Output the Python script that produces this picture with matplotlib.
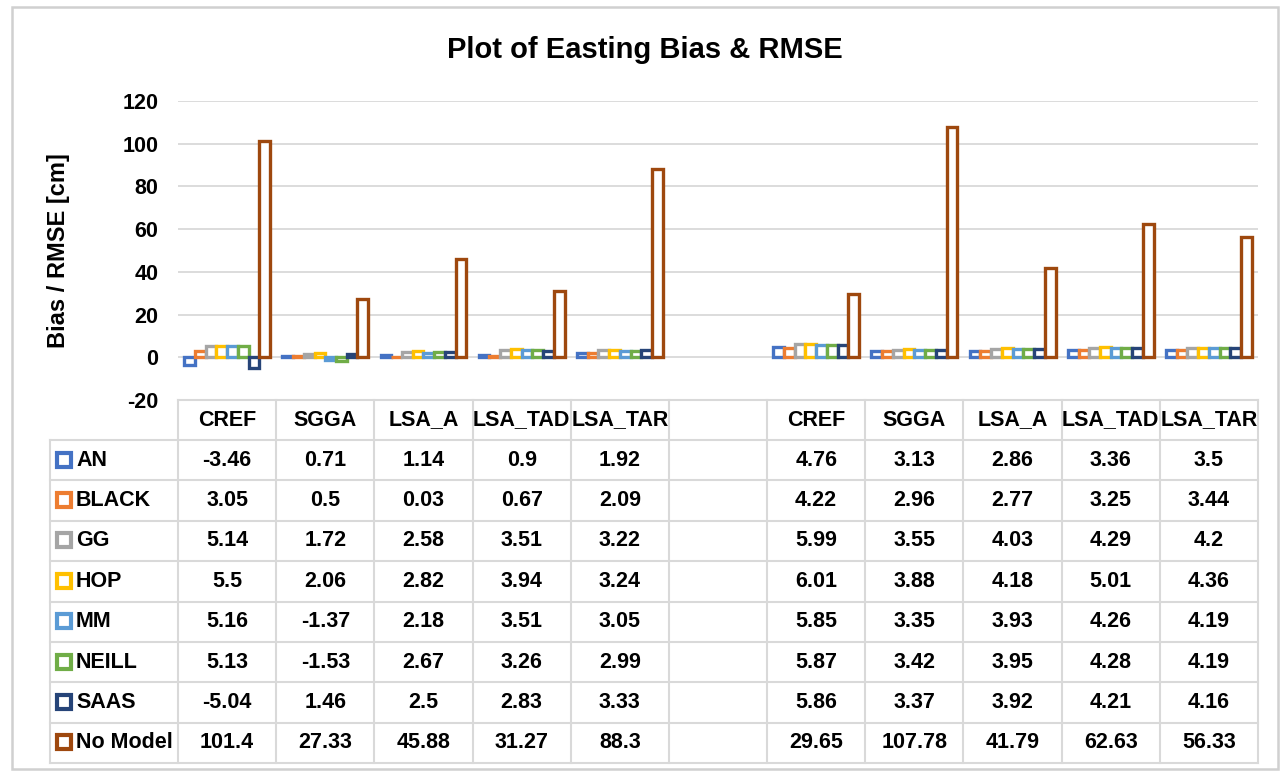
import numpy as np
import matplotlib.pyplot as plt
from matplotlib.patches import Rectangle

plt.rcParams['font.family'] = ['Liberation Sans', 'DejaVu Sans']
plt.rcParams['font.weight'] = 'bold'
plt.rcParams['axes.unicode_minus'] = False

# two groups of solutions, separated by an empty column
categories = ['CREF', 'SGGA', 'LSA_A', 'LSA_TAD', 'LSA_TAR', '',
              'CREF', 'SGGA', 'LSA_A', 'LSA_TAD', 'LSA_TAR']
models = ['AN', 'BLACK', 'GG', 'HOP', 'MM', 'NEILL', 'SAAS', 'No Model']
colors = ['#4472C4', '#ED7D31', '#A5A5A5', '#FFC000',
          '#5B9BD5', '#70AD47', '#264478', '#9E480E']

nan = np.nan
an = [-3.46, 0.71, 1.14, 0.9, 1.92, nan, 4.76, 3.13, 2.86, 3.36, 3.5]
black = [3.05, 0.5, 0.03, 0.67, 2.09, nan, 4.22, 2.96, 2.77, 3.25, 3.44]
gg = [5.14, 1.72, 2.58, 3.51, 3.22, nan, 5.99, 3.55, 4.03, 4.29, 4.2]
hop = [5.5, 2.06, 2.82, 3.94, 3.24, nan, 6.01, 3.88, 4.18, 5.01, 4.36]
mm = [5.16, -1.37, 2.18, 3.51, 3.05, nan, 5.85, 3.35, 3.93, 4.26, 4.19]
neill = [5.13, -1.53, 2.67, 3.26, 2.99, nan, 5.87, 3.42, 3.95, 4.28, 4.19]
saas = [-5.04, 1.46, 2.5, 2.83, 3.33, nan, 5.86, 3.37, 3.92, 4.21, 4.16]
no_model = [101.4, 27.33, 45.88, 31.27, 88.3, nan, 29.65, 107.78, 41.79, 62.63, 56.33]
series = [an, black, gg, hop, mm, neill, saas, no_model]

W, H = 1285, 774
fig = plt.figure(figsize=(W / 100, H / 100), dpi=100)

# pixel layout of the plot area and the data table under it
left, right = 178, 1258
top_px, bot_px = 101, 400
ax = fig.add_axes([left / W, 1 - bot_px / H, (right - left) / W, (bot_px - top_px) / H])

n_cat = len(categories)
n_ser = len(series)
x = np.arange(n_cat)
group_w = 0.875
bw = group_w / n_ser
for k, (vals, c) in enumerate(zip(series, colors)):
    pos = x - group_w / 2 + bw * (k + 0.5)
    ax.bar(pos, vals, width=bw, facecolor='white', edgecolor=c, linewidth=2.4, zorder=3)

ax.set_xlim(-0.5, n_cat - 0.5)
ax.set_ylim(-20, 120)
ax.set_yticks(np.arange(-20, 121, 20))
ax.set_xticks([])
ax.grid(axis='y', color='#D9D9D9', linewidth=1.3, zorder=0)
for s in ax.spines.values():
    s.set_visible(False)
ax.tick_params(axis='y', length=0, labelsize=15.5, pad=14)
for t in ax.get_yticklabels():
    t.set_fontweight('bold')
ax.set_ylabel('Bias / RMSE [cm]', fontsize=17, fontweight='bold', labelpad=38)

fig.text(645 / W, 1 - 50 / H, 'Plot of Easting Bias & RMSE', ha='center', va='center',
         fontsize=21, fontweight='bold')

# data table drawn in pixel coordinates on an overlay
tab = fig.add_axes([0, 0, 1, 1])
tab.set_xlim(0, W)
tab.set_ylim(H, 0)
tab.axis('off')

col_w = (right - left) / n_cat
lab_left = 50
head_top, head_bot = 400, 440
row_h = (763 - head_bot) / len(models)
grid_c = '#D9D9D9'
fs = 15.5

tab.plot([left, right], [head_top, head_top], color=grid_c, lw=1.5)
for r in range(len(models) + 1):
    y = head_bot + r * row_h
    tab.plot([lab_left, right], [y, y], color=grid_c, lw=1.5)
tab.plot([lab_left, lab_left], [head_bot, head_bot + len(models) * row_h], color=grid_c, lw=1.5)
for i in range(n_cat + 1):
    xx = left + i * col_w
    tab.plot([xx, xx], [head_top, head_bot + len(models) * row_h], color=grid_c, lw=1.5)

for i, name in enumerate(categories):
    tab.text(left + (i + 0.5) * col_w, (head_top + head_bot) / 2, name,
             ha='center', va='center', fontsize=fs, fontweight='bold')

for r, (name, c, vals) in enumerate(zip(models, colors, series)):
    yc = head_bot + (r + 0.5) * row_h
    tab.add_patch(Rectangle((57, yc - 7.5), 14, 14, facecolor='white', edgecolor=c, lw=3))
    tab.text(76, yc, name, ha='left', va='center', fontsize=fs, fontweight='bold')
    for i, v in enumerate(vals):
        if np.isnan(v):
            continue
        tab.text(left + (i + 0.5) * col_w, yc, f'{v:g}', ha='center', va='center',
                 fontsize=fs, fontweight='bold')

# light frame around the whole chart
fig.add_artist(Rectangle((12 / W, 5 / H), 1266 / W, 762 / H, transform=fig.transFigure,
                         fill=False, edgecolor='#D0D0D0', lw=1.8))

fig.savefig('out.png', dpi=100)
